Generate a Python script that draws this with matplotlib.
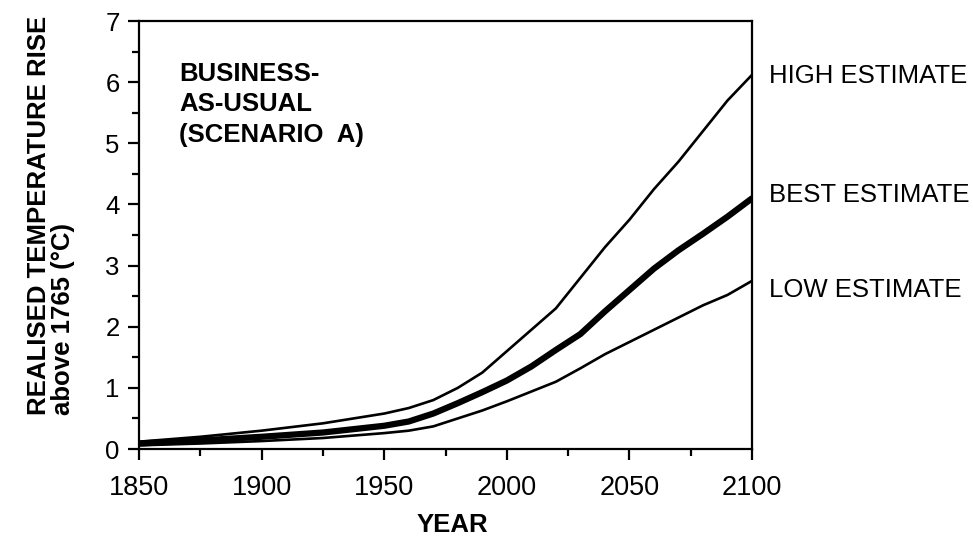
"""
Realised temperature rise, business-as-usual (scenario A).
"""

import matplotlib
matplotlib.use("Agg")
import matplotlib.pyplot as plt
from matplotlib.ticker import MultipleLocator

years = [1850, 1875, 1900, 1925, 1950, 1960, 1970, 1980, 1990, 2000,
         2010, 2020, 2030, 2040, 2050, 2060, 2070, 2080, 2090, 2100]
high = [0.12, 0.2, 0.3, 0.42, 0.58, 0.67, 0.8, 1.0, 1.25, 1.6,
        1.95, 2.3, 2.8, 3.3, 3.75, 4.25, 4.7, 5.2, 5.7, 6.12]
best = [0.09, 0.14, 0.2, 0.27, 0.38, 0.45, 0.58, 0.75, 0.93, 1.12,
        1.35, 1.62, 1.88, 2.25, 2.6, 2.95, 3.25, 3.52, 3.8, 4.1]
low = [0.06, 0.09, 0.13, 0.18, 0.26, 0.3, 0.37, 0.5, 0.63, 0.78,
       0.94, 1.1, 1.32, 1.55, 1.75, 1.95, 2.15, 2.35, 2.52, 2.75]

series_labels = ["HIGH ESTIMATE", "BEST ESTIMATE", "LOW ESTIMATE"]
label_levels = [6.1, 4.16, 2.6]

plt.rcParams["font.family"] = ["Liberation Sans", "DejaVu Sans"]

fig = plt.figure(figsize=(9.73, 5.36), dpi=100)
ax = fig.add_axes([0.1429, 0.1623, 0.63, 0.7985])

ax.plot(years, high, color="black", lw=1.9)
ax.plot(years, best, color="black", lw=4.5, solid_capstyle="round")
ax.plot(years, low, color="black", lw=1.9)

ax.set_xlim(1850, 2100)
ax.set_ylim(0, 7)
ax.xaxis.set_major_locator(MultipleLocator(50))
ax.xaxis.set_minor_locator(MultipleLocator(25))
ax.yaxis.set_major_locator(MultipleLocator(1))
ax.yaxis.set_minor_locator(MultipleLocator(0.5))

for s in ax.spines.values():
    s.set_linewidth(1.6)

ax.tick_params(which="both", direction="out", width=1.6)
ax.tick_params(which="major", length=8)
ax.tick_params(which="minor", length=5)
ax.tick_params(axis="x", labelsize=19.5, pad=11)
ax.tick_params(axis="y", labelsize=18.5, pad=6)

# scenario annotation inside the panel
ax.text(0.066, 0.905, "BUSINESS-\nAS-USUAL\n(SCENARIO  A)", transform=ax.transAxes,
        fontsize=18.5, fontweight="bold", va="top", ha="left", linespacing=1.35)

# right-hand labels for each estimate
for lab, lev in zip(series_labels, label_levels):
    ax.text(1.027, lev, lab, transform=ax.get_yaxis_transform(),
            fontsize=18.5, va="center", ha="left", clip_on=False)

fig.text(0.4645, 0.02, "YEAR", fontsize=18.5, fontweight="bold", ha="center", va="center")
fig.text(0.04, 0.226, "REALISED TEMPERATURE RISE", fontsize=18.5, fontweight="bold",
         rotation=90, rotation_mode="anchor", ha="left", va="center")
fig.text(0.065, 0.226, "above 1765 (°C)", fontsize=18.5, fontweight="bold",
         rotation=90, rotation_mode="anchor", ha="left", va="center")

fig.savefig("out.png", dpi=100)
